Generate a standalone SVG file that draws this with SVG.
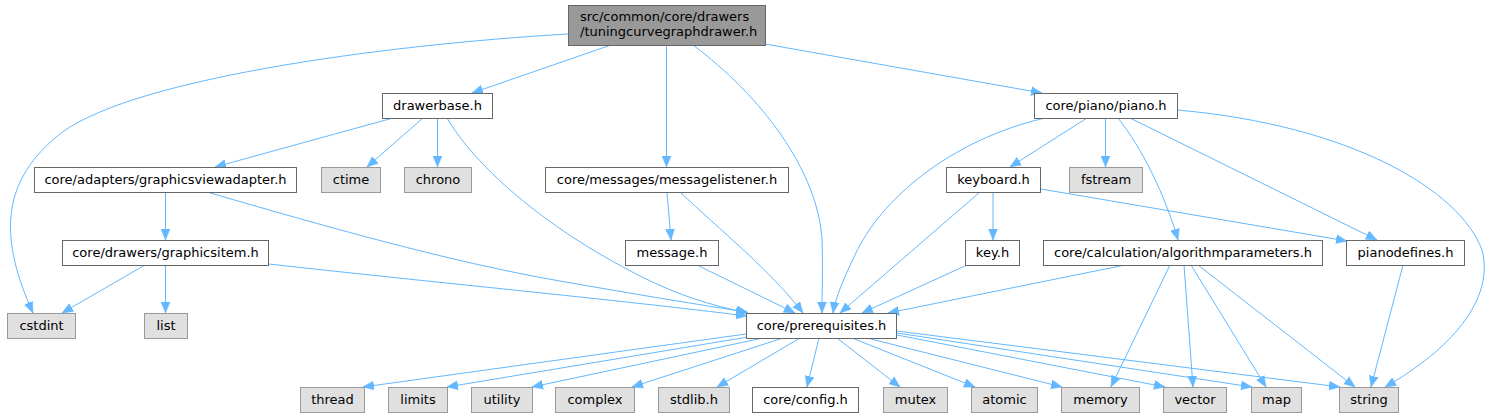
<svg xmlns="http://www.w3.org/2000/svg" width="1491" height="417" viewBox="0 0 1491 417">
<style>
.n rect{fill:#ffffff;stroke:#666666;stroke-width:1}
.s rect{fill:#e0e0e0;stroke:#999999;stroke-width:1}
.r rect{fill:#999999;stroke:#666666;stroke-width:1}
text{font-family:"DejaVu Sans",sans-serif;font-size:13px;fill:#000000}
.c{text-anchor:middle}
#edges path{fill:none;stroke:#63b8ff;stroke-width:1;marker-end:url(#a)}
</style>
<defs>
<marker id="a" markerUnits="userSpaceOnUse" markerWidth="13" markerHeight="10" refX="11" refY="5" orient="auto">
<path d="M0,0.5 L11,5 L0,9.5 z" fill="#63b8ff" stroke="#63b8ff" stroke-width="0.5"/>
</marker>
</defs>
<rect width="1491" height="417" fill="#ffffff"/>
<g id="edges">
<path d="M568,34 C380,45 120,80 55,138 C0,185 0,240 33,313"/>
<path d="M611,45 L472,93"/>
<path d="M666.5,45 L666.5,167"/>
<path d="M693,45 C760,95 818,170 822,240 C823,270 822,295 822,313"/>
<path d="M765,44 L1042,93"/>
<path d="M393,118 L215,167"/>
<path d="M423,118 L367,167"/>
<path d="M437.5,118 L437.5,167"/>
<path d="M447,118 C475,165 540,225 640,276 C680,296 710,305 748,313"/>
<path d="M165.5,192 L165.5,240"/>
<path d="M207,192 C320,225 450,262 560,281 C640,295 700,305 747,312"/>
<path d="M145,265 L62,313"/>
<path d="M165.5,265 L165.5,313"/>
<path d="M269,264 C420,281 620,300 747,316"/>
<path d="M667,192 L671,240"/>
<path d="M680,192 C720,230 770,270 803,313"/>
<path d="M697,265 L795,313"/>
<path d="M1045,118 C950,140 880,200 855,255 C842,282 835,300 833,313"/>
<path d="M1087,118 L1010,167"/>
<path d="M1105.5,118 L1105.5,167"/>
<path d="M1118,118 C1142,148 1165,195 1178,240"/>
<path d="M1130,118 L1377,240"/>
<path d="M1177,110 C1350,125 1460,190 1482,250 C1495,300 1450,350 1385,387"/>
<path d="M993,192 L993,240"/>
<path d="M980,192 L840,313"/>
<path d="M1041,189 L1347,241"/>
<path d="M967,265 L862,313"/>
<path d="M1125,265 L888,313"/>
<path d="M1170,265 L1111,387"/>
<path d="M1184,265 L1193,387"/>
<path d="M1191,265 L1266,387"/>
<path d="M1198,265 L1355,387"/>
<path d="M1403,265 L1371,387"/>
<path d="M746,334 L363,387"/>
<path d="M748,337 L447,387"/>
<path d="M763,338 L532,387"/>
<path d="M783,338 L632,387"/>
<path d="M800,338 L717,387"/>
<path d="M819,338 L807,387"/>
<path d="M837,338 L900,387"/>
<path d="M852,338 L975,387"/>
<path d="M867,338 L1062,387"/>
<path d="M897,335 L1165,387"/>
<path d="M897,333 L1252,387"/>
<path d="M897,331 L1340,387"/>
</g>
<g id="root" class="r"><rect x="568.5" y="5.5" width="197" height="40"/><text x="580" y="21">src/common/core/drawers</text><text x="580" y="36">/tuningcurvegraphdrawer.h</text></g>
<g id="drawerbase" class="n"><rect x="382.5" y="93.5" width="110" height="25"/><text class="c" x="437.5" y="110">drawerbase.h</text></g>
<g id="piano" class="n"><rect x="1034.5" y="93.5" width="143" height="25"/><text class="c" x="1106" y="110">core/piano/piano.h</text></g>
<g id="graphicsviewadapter" class="n"><rect x="34.5" y="167.5" width="262" height="25"/><text class="c" x="165.5" y="184">core/adapters/graphicsviewadapter.h</text></g>
<g id="ctime" class="s"><rect x="321.5" y="167.5" width="59" height="25"/><text class="c" x="351" y="184">ctime</text></g>
<g id="chrono" class="s"><rect x="404.5" y="167.5" width="67" height="25"/><text class="c" x="438" y="184">chrono</text></g>
<g id="messagelistener" class="n"><rect x="545.5" y="167.5" width="243" height="25"/><text class="c" x="667" y="184">core/messages/messagelistener.h</text></g>
<g id="keyboard" class="n"><rect x="946.5" y="167.5" width="94" height="25"/><text class="c" x="993.5" y="184">keyboard.h</text></g>
<g id="fstream" class="s"><rect x="1069.5" y="167.5" width="73" height="25"/><text class="c" x="1106" y="184">fstream</text></g>
<g id="graphicsitem" class="n"><rect x="62.5" y="240.5" width="206" height="25"/><text class="c" x="165.5" y="257">core/drawers/graphicsitem.h</text></g>
<g id="message" class="n"><rect x="625.5" y="240.5" width="93" height="25"/><text class="c" x="672" y="257">message.h</text></g>
<g id="key" class="n"><rect x="965.5" y="240.5" width="54" height="25"/><text class="c" x="992.5" y="257">key.h</text></g>
<g id="algorithmparameters" class="n"><rect x="1043.5" y="240.5" width="279" height="25"/><text class="c" x="1183" y="257">core/calculation/algorithmparameters.h</text></g>
<g id="pianodefines" class="n"><rect x="1346.5" y="240.5" width="118" height="25"/><text class="c" x="1405.5" y="257">pianodefines.h</text></g>
<g id="cstdint" class="s"><rect x="7.5" y="313.5" width="68" height="25"/><text class="c" x="41.5" y="330">cstdint</text></g>
<g id="list" class="s"><rect x="144.5" y="313.5" width="43" height="25"/><text class="c" x="166" y="330">list</text></g>
<g id="prerequisites" class="n"><rect x="746.5" y="313.5" width="150" height="25"/><text class="c" x="821.5" y="330">core/prerequisites.h</text></g>
<g id="thread" class="s"><rect x="300.5" y="387.5" width="64" height="25"/><text class="c" x="332.5" y="404">thread</text></g>
<g id="limits" class="s"><rect x="388.5" y="387.5" width="59" height="25"/><text class="c" x="418" y="404">limits</text></g>
<g id="utility" class="s"><rect x="471.5" y="387.5" width="61" height="25"/><text class="c" x="502" y="404">utility</text></g>
<g id="complex" class="s"><rect x="555.5" y="387.5" width="79" height="25"/><text class="c" x="595" y="404">complex</text></g>
<g id="stdlib" class="s"><rect x="658.5" y="387.5" width="71" height="25"/><text class="c" x="694" y="404">stdlib.h</text></g>
<g id="config" class="n"><rect x="752.5" y="387.5" width="106" height="25"/><text class="c" x="805.5" y="404">core/config.h</text></g>
<g id="mutex" class="s"><rect x="883.5" y="387.5" width="64" height="25"/><text class="c" x="915.5" y="404">mutex</text></g>
<g id="atomic" class="s"><rect x="971.5" y="387.5" width="66" height="25"/><text class="c" x="1004.5" y="404">atomic</text></g>
<g id="memory" class="s"><rect x="1061.5" y="387.5" width="78" height="25"/><text class="c" x="1100.5" y="404">memory</text></g>
<g id="vector" class="s"><rect x="1163.5" y="387.5" width="63" height="25"/><text class="c" x="1195" y="404">vector</text></g>
<g id="map" class="s"><rect x="1251.5" y="387.5" width="50" height="25"/><text class="c" x="1276.5" y="404">map</text></g>
<g id="string" class="s"><rect x="1339.5" y="387.5" width="59" height="25"/><text class="c" x="1369" y="404">string</text></g>
</svg>
